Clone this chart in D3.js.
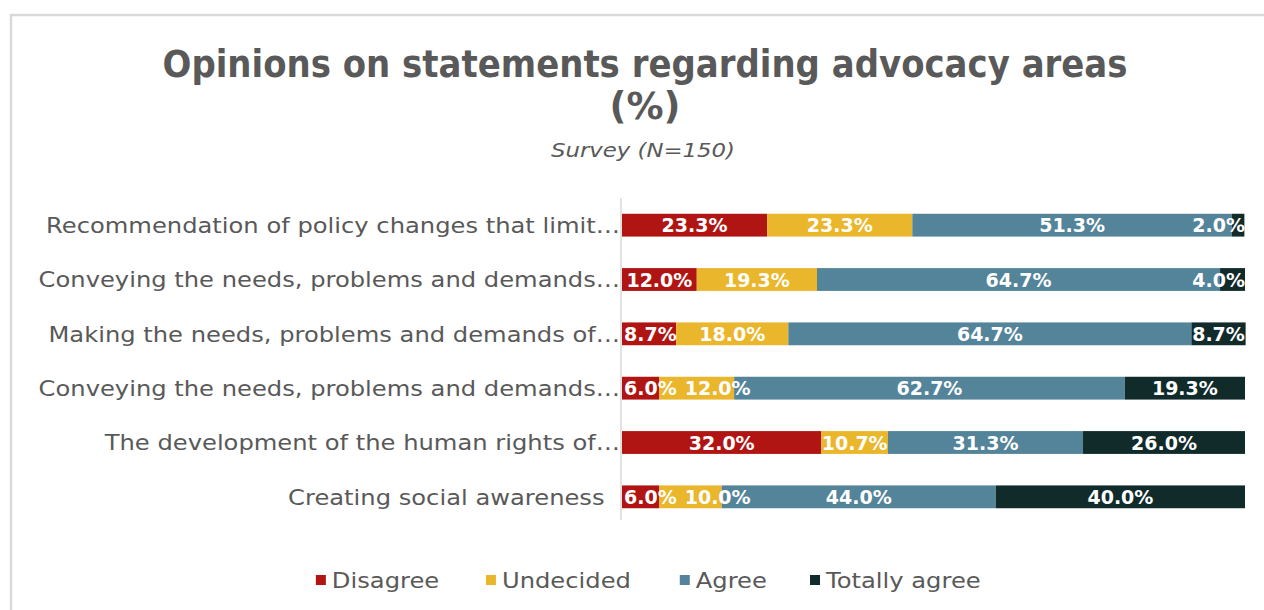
<!DOCTYPE html>
<html>
<head>
<meta charset="utf-8">
<script src="https://cdn.jsdelivr.net/npm/d3@7"></script>
<style>
  html, body { margin: 0; padding: 0; background: #fff; }
  svg { display: block; }
  text { font-family: "DejaVu Sans", "Liberation Sans", sans-serif; }
</style>
</head>
<body>
<svg id="chart" width="1264" height="610"></svg>
<script>
// Statement labels, top to bottom
const categories = [
  "Recommendation of policy changes that limit…",
  "Conveying the needs, problems and demands…",
  "Making the needs, problems and demands of…",
  "Conveying the needs, problems and demands…",
  "The development of the human rights of…",
  "Creating social awareness  "
];
// Response shares (%) per statement
const disagree     = [23.3, 12.0,  8.7,  6.0, 32.0,  6.0];
const undecided    = [23.3, 19.3, 18.0, 12.0, 10.7, 10.0];
const agree        = [51.3, 64.7, 64.7, 62.7, 31.3, 44.0];
const totallyAgree = [ 2.0,  4.0,  8.7, 19.3, 26.0, 40.0];
const seriesNames = ["Disagree", "Undecided", "Agree", "Totally agree"];
const seriesColors = ["#B01513", "#EAB62B", "#54849A", "#112A2A"];

const title1 = "Opinions on statements regarding advocacy areas";
const title2 = "(%)";
const subtitle = "Survey (N=150)";

const svg = d3.select("#chart");
const W = 1264, H = 610;
const TEXT = "#595959";

// stretch a text element horizontally, keeping its height
function widen(sel, f) {
  sel.each(function() {
    const w = this.getComputedTextLength();
    d3.select(this).attr("textLength", w * f).attr("lengthAdjust", "spacingAndGlyphs");
  });
  return sel;
}

// Chart frame
svg.append("rect")
  .attr("x", 11).attr("y", 15)
  .attr("width", W + 20).attr("height", H + 20)
  .attr("fill", "#fff")
  .attr("stroke", "#d9d9d9").attr("stroke-width", 2.5);

// Titles
svg.append("text")
  .attr("x", 645).attr("y", 77)
  .attr("text-anchor", "middle")
  .attr("font-size", 37).attr("font-weight", "bold")
  .attr("fill", TEXT)
  .attr("textLength", 965).attr("lengthAdjust", "spacingAndGlyphs")
  .text(title1);
svg.append("text")
  .attr("x", 645).attr("y", 119)
  .attr("text-anchor", "middle")
  .attr("font-size", 37).attr("font-weight", "bold")
  .attr("fill", TEXT)
  .text(title2);
widen(svg.append("text")
  .attr("x", 643).attr("y", 157)
  .attr("text-anchor", "middle")
  .attr("font-size", 20).attr("font-style", "italic")
  .attr("fill", TEXT)
  .text(subtitle), 1.14);

// Plot area
const x0 = 622, x1 = 1245;
const x = d3.scaleLinear().domain([0, 100]).range([x0, x1]);
const y = d3.scaleBand().domain(d3.range(categories.length))
  .range([198, 524]).paddingInner(0.58).paddingOuter(0.29);

const table = categories.map((c, i) => ({
  cat: c,
  vals: [disagree[i], undecided[i], agree[i], totallyAgree[i]]
}));

// clip for value labels (row-local coordinates)
svg.append("clipPath").attr("id", "plotclip")
  .append("rect").attr("x", x0).attr("y", -20)
  .attr("width", x1 - x0 + 2).attr("height", y.bandwidth() + 40);

const rows = svg.append("g").selectAll("g").data(table).join("g")
  .attr("transform", (d, i) => `translate(0,${y(i)})`);

rows.each(function(d) {
  const g = d3.select(this);
  let acc = 0;
  const segs = d.vals.map((v, k) => {
    const s = { start: acc, value: v, k };
    acc += v;
    return s;
  });
  g.selectAll("rect").data(segs).join("rect")
    .attr("x", s => x(s.start))
    .attr("width", s => x(s.start + s.value) - x(s.start))
    .attr("y", 0).attr("height", y.bandwidth())
    .attr("fill", s => seriesColors[s.k]);

  // value labels, centred in each segment, nudged to avoid overlap
  const lg = g.append("g").attr("clip-path", "url(#plotclip)");
  let prevEnd = -Infinity;
  segs.forEach(s => {
    const t = lg.append("text")
      .attr("y", y.bandwidth() / 2)
      .attr("dy", "0.37em")
      .attr("font-size", 19).attr("font-weight", "bold")
      .attr("fill", "#fff")
      .text(s.value.toFixed(1) + "%");
    const w = t.node().getComputedTextLength();
    let left = x(s.start + s.value / 2) - w / 2;
    if (left < x0 + 2) left = x0 + 2;
    if (left < prevEnd + 8) left = prevEnd + 8;
    if (left + w > x1) left = x1 - w;
    t.attr("x", left);
    prevEnd = left + w;
  });
});

// Category axis line
svg.append("line")
  .attr("x1", x0 - 1).attr("x2", x0 - 1)
  .attr("y1", 198).attr("y2", 520)
  .attr("stroke", "#d9d9d9").attr("stroke-width", 1.5);

// Category labels
widen(svg.append("g").selectAll("text").data(categories).join("text")
  .attr("x", x0 - 2)
  .attr("y", (d, i) => y(i) + y.bandwidth() / 2)
  .attr("dy", "0.36em")
  .attr("text-anchor", "end")
  .attr("font-size", 22)
  .attr("fill", TEXT)
  .style("white-space", "pre")
  .text(d => d), 1.10);

// Legend
const legend = svg.append("g");
let lx = 0;
seriesNames.forEach((name, k) => {
  const item = legend.append("g").attr("transform", `translate(${lx},0)`);
  item.append("rect").attr("x", 0).attr("y", -5).attr("width", 10).attr("height", 10)
    .attr("fill", seriesColors[k]);
  const t = item.append("text").attr("x", 16).attr("dy", "0.36em")
    .attr("font-size", 22).attr("fill", TEXT).text(name);
  widen(t, 1.1);
  lx += 16 + t.node().getComputedTextLength() * 1.1 + 36;
});
const legendW = lx - 36;
legend.attr("transform", `translate(${656 - legendW / 2},580)`);
</script>
</body>
</html>
